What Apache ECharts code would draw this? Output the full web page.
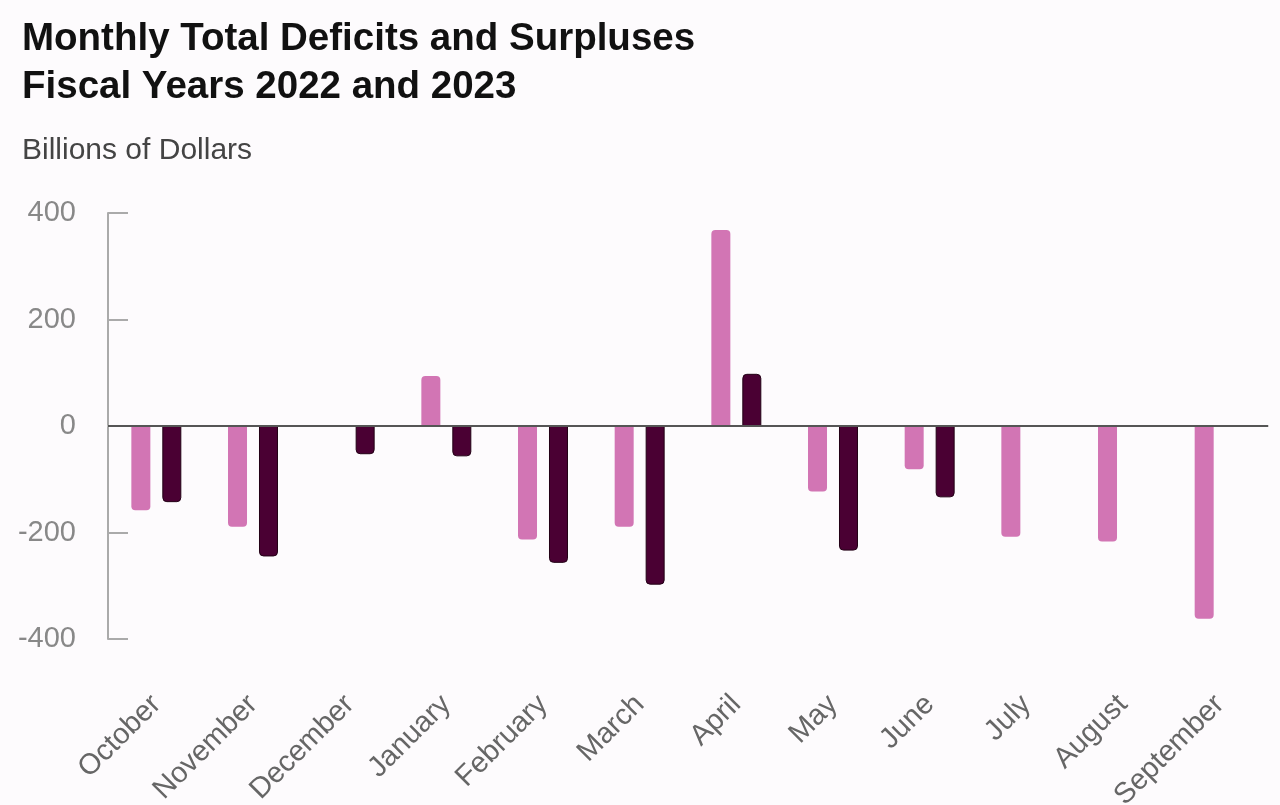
<!DOCTYPE html>
<html>
<head>
<meta charset="utf-8">
<script src="https://cdn.jsdelivr.net/npm/echarts@6/dist/echarts.min.js"></script>
<style>
html,body{margin:0;padding:0;background:#fdfbfd;}
#chart{width:1280px;height:805px;}
</style>
</head>
<body>
<div id="chart"></div>
<script>
const months = ["October","November","December","January","February","March","April","May","June","July","August","September"];
const fy2022 = [-158, -189, 0, 94, -213, -189, 368, -123, -81, -208, -217, -362];
const fy2023 = [-143, -245, -53, -57, -257, -298, 98, -234, -134, null, null, null];
const yTicks = [-400, -200, 0, 200, 400];

const FONT = '"Liberation Sans", Arial, sans-serif';

function styled(vals, color, border) {
  return vals.map(v => v === null ? null : ({
    value: v,
    itemStyle: {
      color: color,
      borderColor: border || color,
      borderWidth: border ? 1 : 0,
      borderRadius: v >= 0 ? [4,4,0,0] : [0,0,4,4]
    }
  }));
}

const chart = echarts.init(document.getElementById('chart'));
chart.setOption({
  backgroundColor: '#fdfbfd',
  animation: false,
  title: [
    { text: 'Monthly Total Deficits and Surpluses\nFiscal Years 2022 and 2023', left: 22, top: 15, padding: 0,
      textStyle: { fontFamily: FONT, fontSize: 38.5, fontWeight: 'bold', color: '#111', lineHeight: 48 } },
    { text: 'Billions of Dollars', left: 22, top: 136, padding: 0,
      textStyle: { fontFamily: FONT, fontSize: 30, fontWeight: 'normal', color: '#444' } }
  ],
  grid: { left: 108, right: 12, top: 213, bottom: 166, containLabel: false, outerBoundsMode: 'none' },
  xAxis: {
    type: 'category',
    data: months,
    axisLine: { lineStyle: { color: '#c4c4c4', width: 2 } },
    axisTick: { show: false },
    axisLabel: { rotate: 45, margin: 61, fontFamily: FONT, fontSize: 29, color: '#666', interval: 0 }
  },
  yAxis: {
    type: 'value',
    min: -400, max: 400, interval: 200,
    axisLine: { show: true, lineStyle: { color: '#aaa', width: 2 } },
    axisTick: { show: true, inside: true, length: 20, lineStyle: { color: '#aaa', width: 2 } },
    splitLine: { show: false },
    axisLabel: { fontFamily: FONT, fontSize: 29, color: '#888', margin: 32,
      formatter: v => yTicks.includes(v) ? String(v) : '' }
  },
  series: [
    { name: 'FY2022', type: 'bar', barWidth: 19, barGap: '63%',
      data: styled(fy2022, '#d275b4'),
      markLine: { silent: true, symbol: 'none', label: { show: false },
        lineStyle: { color: '#555', width: 2, type: 'solid' }, data: [{ yAxis: 0 }] } },
    { name: 'FY2023', type: 'bar', barWidth: 19,
      data: styled(fy2023, '#4a0033', '#220015') }
  ]
});
</script>
</body>
</html>
